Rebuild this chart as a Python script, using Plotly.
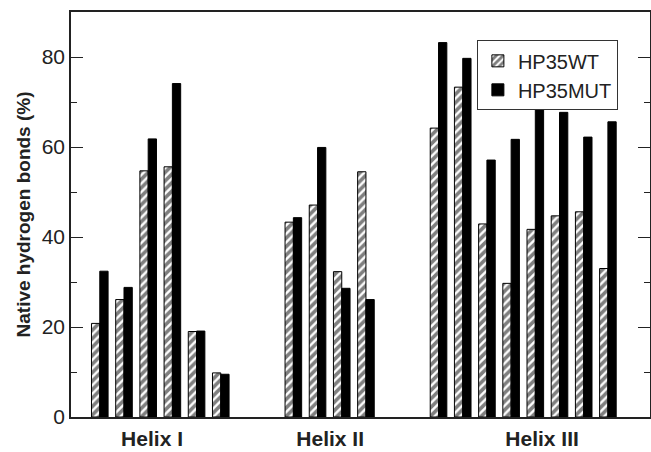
import plotly.graph_objects as go

# Data (percent native hydrogen bonds)
helix1_wt = [20.8, 26.1, 54.7, 55.6, 19.0, 9.8]
helix1_mut = [32.4, 28.8, 61.8, 74.1, 19.1, 9.5]
helix2_wt = [43.3, 47.1, 32.3, 54.5]
helix2_mut = [44.3, 59.9, 28.6, 26.1]
helix3_wt = [64.2, 73.3, 42.9, 29.7, 41.7, 44.7, 45.6, 33.0]
helix3_mut = [83.2, 79.7, 57.1, 61.7, 69.1, 67.7, 62.2, 65.6]
group_labels = ["Helix I", "Helix II", "Helix III"]
series_names = ["HP35WT", "HP35MUT"]

# Slot layout: groups separated by empty slots
group_starts = [0, 8, 14]
label_pos = [2.16, 9.52, 18.28]

groups_wt = [helix1_wt, helix2_wt, helix3_wt]
groups_mut = [helix1_mut, helix2_mut, helix3_mut]

xs, wt, mut = [], [], []
for start, gw, gm in zip(group_starts, groups_wt, groups_mut):
    for i, (a, b) in enumerate(zip(gw, gm)):
        xs.append(start + i)
        wt.append(a)
        mut.append(b)

FONT = "Liberation Sans, Arial, Helvetica, sans-serif"

fig = go.Figure()
fig.add_trace(go.Bar(
    x=xs, y=wt, name=series_names[0],
    marker=dict(color="white", line=dict(color="black", width=1),
                pattern=dict(shape="/", fgcolor="black", bgcolor="white",
                             size=6, solidity=0.6)),
))
fig.add_trace(go.Bar(
    x=xs, y=mut, name=series_names[1],
    marker=dict(color="black", line=dict(color="black", width=1)),
))

fig.update_layout(
    width=651, height=452,
    margin=dict(l=71, r=1, t=12, b=35),
    paper_bgcolor="white", plot_bgcolor="white",
    barmode="group", bargap=0.314, bargroupgap=0,
    font=dict(family=FONT, size=21, color="#222"),
    showlegend=True,
    legend=dict(
        x=0.701, y=0.93, xanchor="left", yanchor="top",
        bordercolor="#333", borderwidth=1, bgcolor="white",
        font=dict(size=20, color="#222"),
        tracegroupgap=0, itemwidth=30,
    ),
)
fig.update_xaxes(
    range=[-1.19, 22.74], automargin=False,
    showline=True, linecolor="#222", linewidth=1.5, mirror=True,
    ticks="", showgrid=False, zeroline=False,
    tickmode="array", tickvals=label_pos,
    ticktext=[f"<b>{t}</b>" for t in group_labels],
    tickfont=dict(size=21, color="#222"),
    ticklabelstandoff=2,
)
fig.update_yaxes(
    range=[0, 90], automargin=False,
    showline=True, linecolor="#222", linewidth=1.5, mirror="ticks",
    ticks="inside", ticklen=12, tickwidth=1, tickcolor="#222",
    tickvals=[0, 20, 40, 60, 80],
    minor=dict(ticks="inside", ticklen=6, tickwidth=1, tickcolor="#222", dtick=10),
    showgrid=False, zeroline=False,
    tickfont=dict(size=21, color="#222"),
    title=dict(text="<b>Native hydrogen bonds (%)</b>", font=dict(size=19, color="#222"), standoff=6),
)

fig.write_html("out.html")
